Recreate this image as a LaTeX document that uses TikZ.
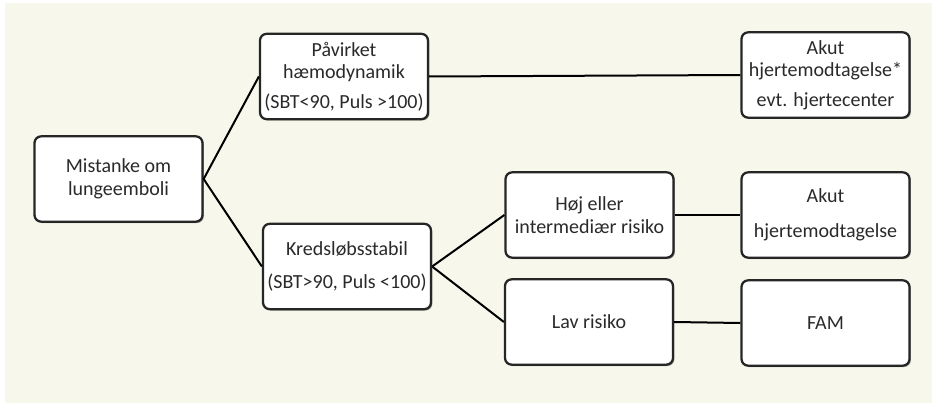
\documentclass[tikz,border=0pt]{standalone}
\usepackage{fontspec}
\setmainfont{Carlito}
\usepackage{xcolor}
\usetikzlibrary{shadows}
\usetikzlibrary{positioning}

\definecolor{paper}{HTML}{F7F7EB}
\definecolor{txt}{HTML}{2A2A2A}

\tikzset{
  box/.style={draw=black!85, line width=1.7pt, rounded corners=5pt, fill=white,
    align=center, text=txt, font=\fontsize{15}{17}\selectfont,
    minimum width=126pt, minimum height=64pt, inner sep=0pt,
    drop shadow={shadow xshift=1pt, shadow yshift=-1pt, opacity=0.35, fill=black}},
  link/.style={draw=black, line width=1.5pt}
}

\begin{document}
\begin{tikzpicture}[x=0.75pt, y=-0.75pt]
%background
	\fill[white] (0,0) rectangle (932,403);
	\fill[paper] (5,3) rectangle (932,403);
	\useasboundingbox (0,0) rectangle (932,403);

%boxes
	\node[box] (mist) at (118.5,179) {Mistanke om\\lungeemboli};
	\node[box] (pav) at (344,76.5) {Påvirket\\hæmodynamik\\[5pt](SBT<90, Puls >100)};
	\node[box] (kred) at (347,266.5) {Kredsløbsstabil\\[8pt](SBT>90, Puls <100)};
	\node[box] (akuta) at (825.5,75) {Akut\\hjertemodtagelse*\\[5pt]evt. hjertecenter};
	\node[box] (hoj) at (589.5,215) {Høj eller\\intermediær risiko};
	\node[box] (akutb) at (825.5,215) {Akut\\[9pt]hjertemodtagelse};
	\node[box] (lav) at (589,322) {Lav risiko};
	\node[box] (fam) at (825.5,323) {FAM};

%lines
	\foreach \a/\b in {mist/pav, mist/kred, pav/akuta, kred/hoj, kred/lav, hoj/akutb, lav/fam}{
		\draw[link] (\a.east) -- (\b.west);
	}
\end{tikzpicture}
\end{document}
